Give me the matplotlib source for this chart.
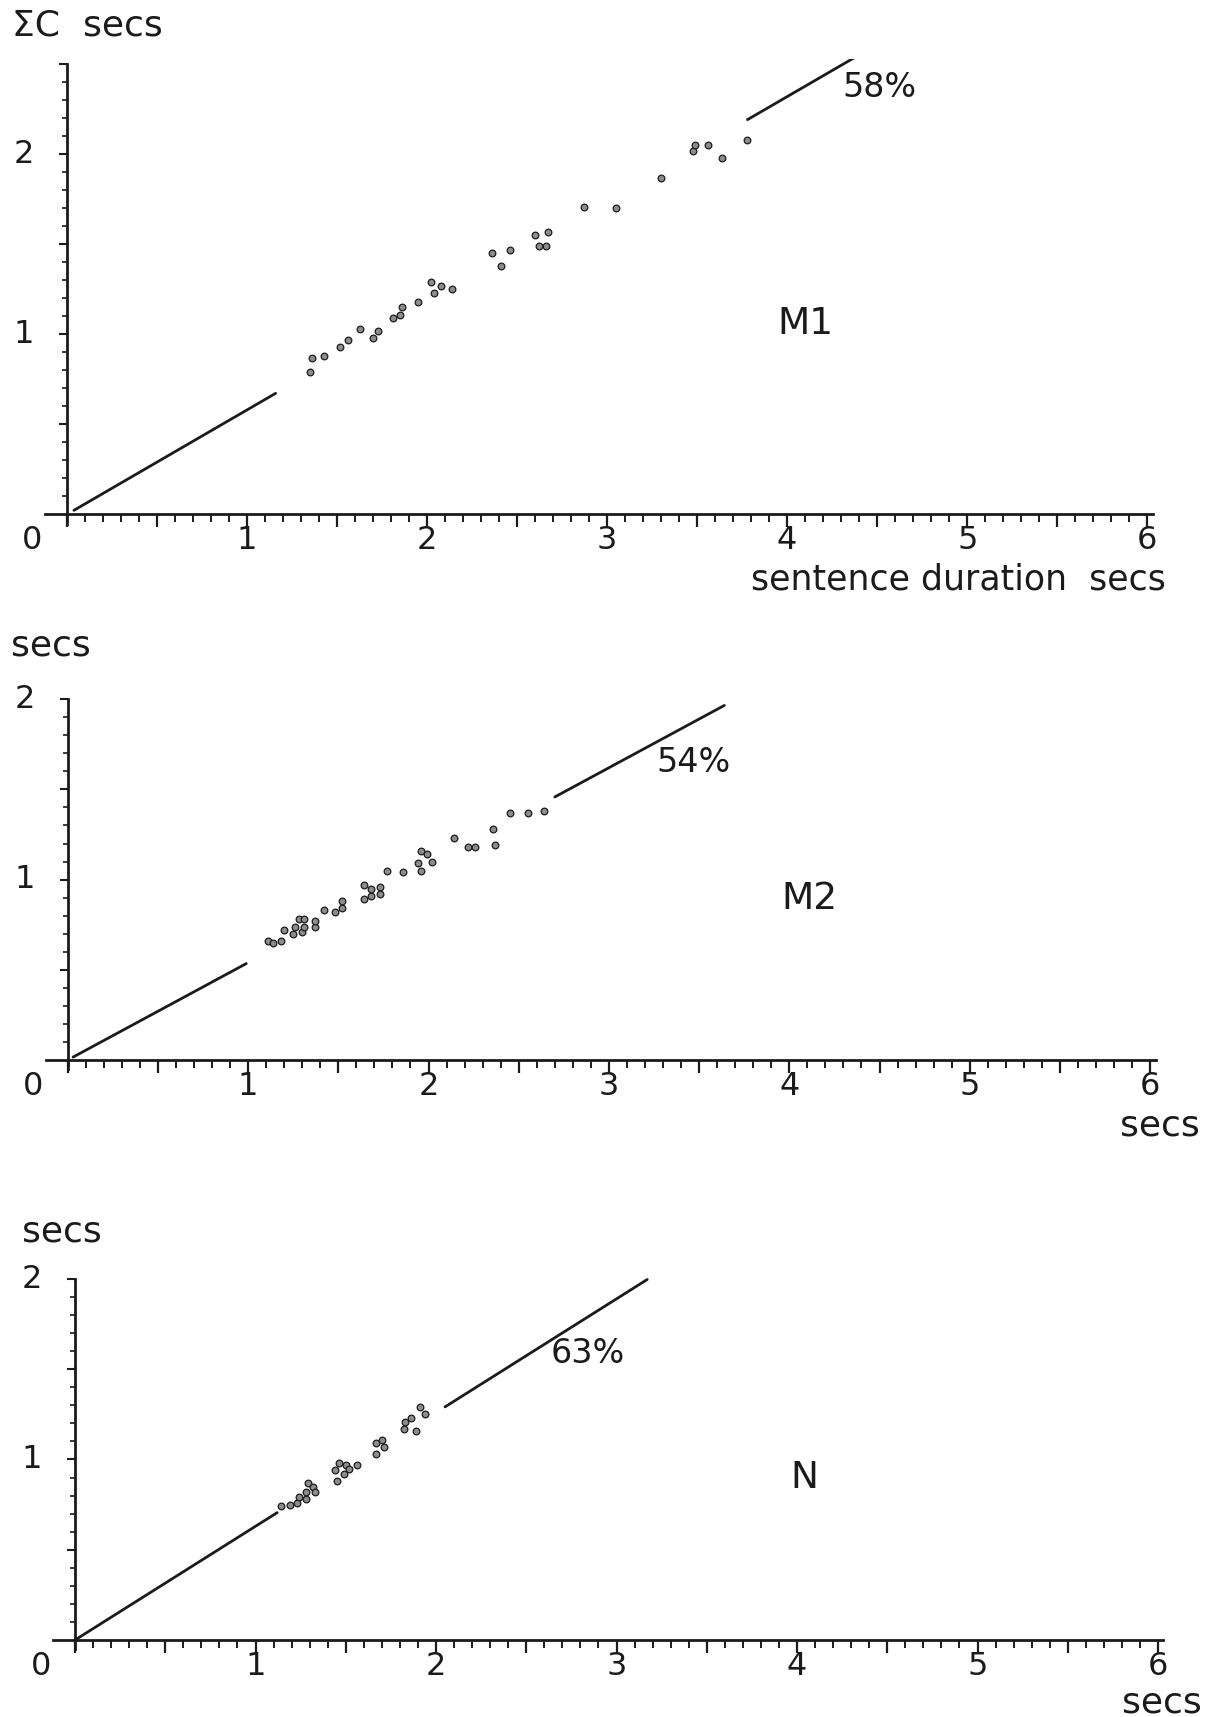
import numpy as np
import matplotlib
matplotlib.use("Agg")
import matplotlib.pyplot as plt

plt.rcParams['font.family'] = ['DejaVu Sans']

# ---- data: summed consonant duration vs sentence duration (secs) ----
speakers = ["M1", "M2", "N"]
percent = [58, 54, 63]

m1_x = [1.35, 1.36, 1.43, 1.52, 1.56, 1.63, 1.70, 1.73, 1.81, 1.85, 1.86, 1.95,
        2.02, 2.04, 2.08, 2.14, 2.36, 2.41, 2.46, 2.60, 2.62, 2.66, 2.67, 2.87,
        3.05, 3.30, 3.48, 3.49, 3.56, 3.64, 3.78]
m1_y = [0.79, 0.87, 0.88, 0.93, 0.97, 1.03, 0.98, 1.02, 1.09, 1.11, 1.15, 1.18,
        1.29, 1.23, 1.27, 1.25, 1.45, 1.38, 1.47, 1.55, 1.49, 1.49, 1.57, 1.71,
        1.70, 1.87, 2.02, 2.05, 2.05, 1.98, 2.08]

m2_x = [1.11, 1.14, 1.18, 1.20, 1.25, 1.26, 1.28, 1.30, 1.31, 1.31, 1.37, 1.37,
        1.42, 1.48, 1.52, 1.52, 1.64, 1.64, 1.68, 1.68, 1.73, 1.73, 1.77, 1.86,
        1.94, 1.96, 1.96, 1.99, 2.02, 2.14, 2.22, 2.26, 2.36, 2.37, 2.45, 2.55,
        2.64]
m2_y = [0.66, 0.65, 0.66, 0.72, 0.70, 0.74, 0.78, 0.71, 0.74, 0.78, 0.74, 0.77,
        0.83, 0.82, 0.84, 0.88, 0.89, 0.97, 0.91, 0.95, 0.92, 0.96, 1.05, 1.04,
        1.09, 1.05, 1.16, 1.14, 1.10, 1.23, 1.18, 1.18, 1.28, 1.19, 1.37, 1.37,
        1.38]

n_x = [1.14, 1.19, 1.23, 1.24, 1.28, 1.28, 1.29, 1.32, 1.33, 1.44, 1.45, 1.46,
       1.49, 1.50, 1.52, 1.56, 1.67, 1.67, 1.70, 1.71, 1.82, 1.83, 1.86, 1.89,
       1.91, 1.94]
n_y = [0.74, 0.75, 0.76, 0.79, 0.78, 0.82, 0.87, 0.85, 0.82, 0.94, 0.88, 0.98,
       0.92, 0.97, 0.95, 0.97, 1.03, 1.09, 1.11, 1.07, 1.17, 1.21, 1.23, 1.16,
       1.29, 1.25]

# fitted proportion line, drawn in two pieces either side of the data
line_lo = [(0.04, 1.16), (0.03, 0.99), (0.00, 1.12)]
line_hi = [(3.78, 4.72), (2.70, 3.64), (2.05, 3.17)]

# label placement (data units)
pct_pos = [(4.51, 2.37), (3.47, 1.65), (2.84, 1.59)]
name_pos = [(4.10, 1.06), (4.11, 0.89), (4.04, 0.90)]
y_top = [2.5, 2.0, 2.0]
y_tick_labels = [[1, 2], [1, 2], [1, 2]]
x_tick_labels = [1, 2, 3, 4, 5, 6]

xs = [m1_x, m2_x, n_x]
ys = [m1_y, m2_y, n_y]

# ---- layout (pixels) ----
W, H = 1214, 1717
fig = plt.figure(figsize=(W / 100, H / 100), dpi=100)
fig.patch.set_facecolor("white")

# origin pixel (x, y from top) and pixels per second for each panel
frames = [(66.7, 514.5, 180.1), (67.7, 1060.0, 180.4), (75.0, 1640.0, 180.5)]

INK = "#1b1b1b"
XLIM = (-0.14, 6.06)


def px(x, y):
    return x / W, 1 - y / H


for i in range(3):
    ox, oy, u = frames[i]
    ylim = (-0.09, y_top[i] + 0.03)
    left = (ox + XLIM[0] * u) / W
    width = (XLIM[1] - XLIM[0]) * u / W
    bottom = 1 - (oy - ylim[0] * u) / H
    height = (ylim[1] - ylim[0]) * u / H
    ax = fig.add_axes([left, bottom, width, height])
    ax.set_xlim(*XLIM)
    ax.set_ylim(*ylim)
    ax.patch.set_alpha(0)

    for s in ("top", "right"):
        ax.spines[s].set_visible(False)
    ax.spines["left"].set_position(("data", 0))
    ax.spines["bottom"].set_position(("data", 0))
    ax.spines["left"].set_bounds(-0.05, y_top[i])
    ax.spines["bottom"].set_bounds(-0.12, 6.03)
    for s in ("left", "bottom"):
        ax.spines[s].set_linewidth(2.0)
        ax.spines[s].set_color(INK)

    ax.set_xticks(np.arange(0, 6.01, 0.5))
    ax.set_xticks(np.round(np.arange(0.1, 6.01, 0.1), 2), minor=True)
    ax.set_yticks(np.arange(0.5, y_top[i] + 0.01, 0.5))
    ax.set_yticks(np.round(np.arange(0.1, y_top[i] + 0.01, 0.1), 2), minor=True)
    ax.tick_params(axis="x", which="major", direction="out", length=9.5,
                   width=1.6, color=INK, labelbottom=False)
    ax.tick_params(axis="x", which="minor", direction="out", length=5.5,
                   width=1.4, color=INK)
    ax.tick_params(axis="y", which="major", direction="out", length=6,
                   width=1.5, color=INK, labelleft=False)
    ax.tick_params(axis="y", which="minor", direction="out", length=3.5,
                   width=1.2, color=INK)

    # proportion line
    k = percent[i] / 100.0
    for seg in (line_lo[i], line_hi[i]):
        sx = np.array(seg)
        ax.plot(sx, k * sx, color=INK, lw=2.0, solid_capstyle="round")

    # measured sentences
    ax.plot(xs[i], ys[i], "o", ms=4.8, mfc="#8c8c8c", mec=INK, mew=0.9,
            ls="none")

    # tick numbers
    for t in x_tick_labels:
        ax.text(t, -0.145, str(t), ha="center", va="center", fontsize=23,
                color=INK)
    for t in y_tick_labels[i]:
        ax.text(-0.24, t, str(t), ha="center", va="center", fontsize=23,
                color=INK)
    ax.text(-0.19, -0.145, "0", ha="center", va="center", fontsize=23,
            color=INK)

    ax.text(*pct_pos[i], f"{percent[i]}%", ha="center", va="center",
            fontsize=24, color=INK)
    ax.text(*name_pos[i], speakers[i], ha="center", va="center",
            fontsize=27, color=INK)

# axis titles
fig.text(*px(12, 26), "ΣC  secs", ha="left", va="center", fontsize=26,
         color=INK)
fig.text(*px(1166, 580), "sentence duration  secs", ha="right", va="center",
         fontsize=25, color=INK)
fig.text(*px(11, 646), "secs", ha="left", va="center", fontsize=26, color=INK)
fig.text(*px(1200, 1126), "secs", ha="right", va="center", fontsize=26,
         color=INK)
fig.text(*px(22, 1231), "secs", ha="left", va="center", fontsize=26, color=INK)
fig.text(*px(1202, 1702), "secs", ha="right", va="center", fontsize=26,
         color=INK)

fig.savefig("out.png", dpi=100, facecolor="white")
